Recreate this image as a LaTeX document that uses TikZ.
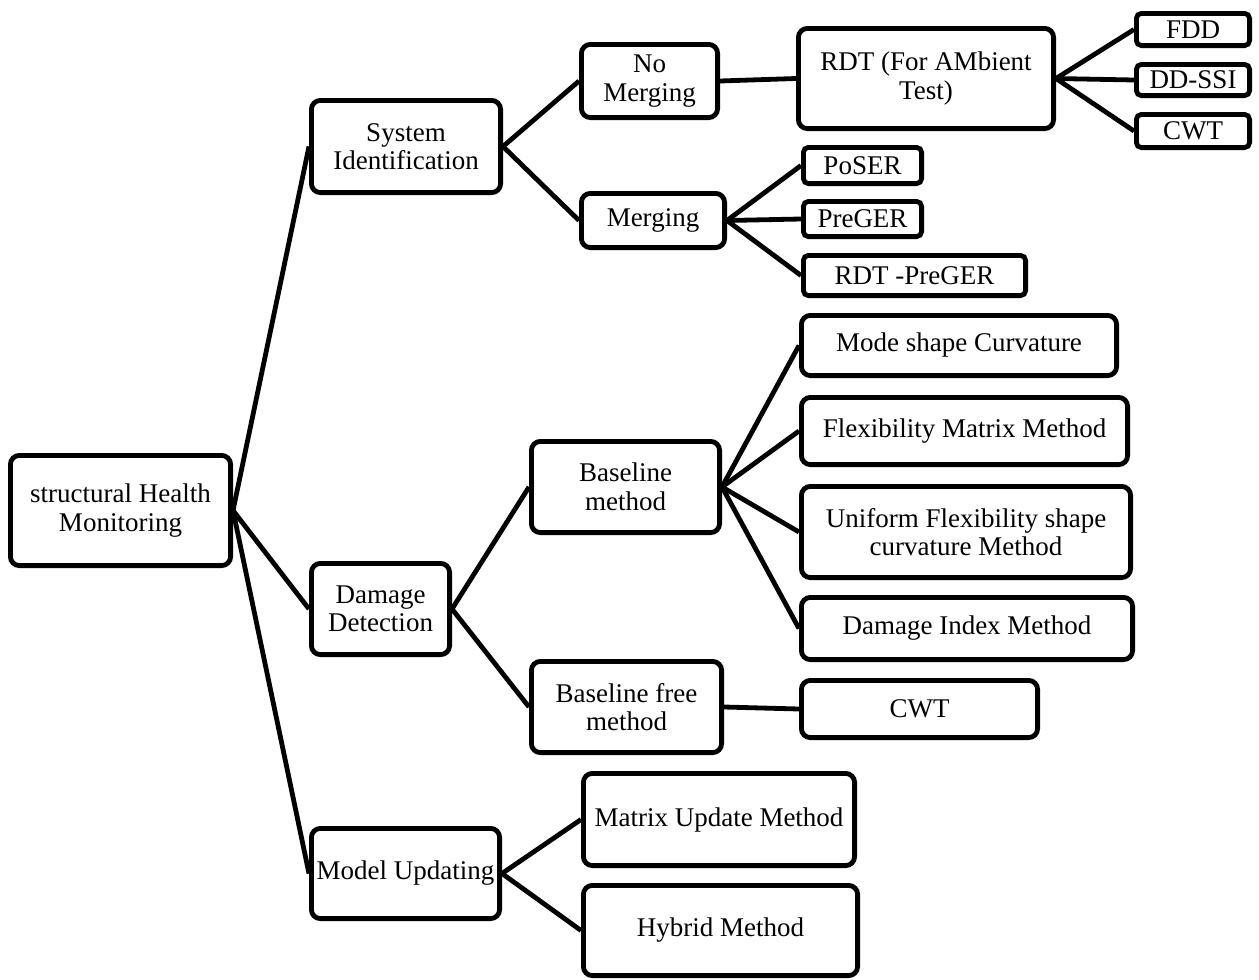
\documentclass[tikz,border=0pt]{standalone}
\usepackage{fontspec}
\setmainfont{Liberation Serif}
\begin{document}
\begin{tikzpicture}[x=1pt,y=-1pt,
  every node/.style={font=\fontsize{27}{28.5}\selectfont},
  bx/.style={draw, line width=4.8pt, rounded corners=9pt, align=center, inner sep=0pt, fill=white},
  sbx/.style={bx, rounded corners=5pt},
  ln/.style={line width=4.8pt}]
\useasboundingbox (0,0) rectangle (1259,980);
\newcommand{\bxat}[6]{\node[#1, minimum width=#4pt-4.8pt, minimum height=#5pt-4.8pt] (#2) at (#3) {#6};}
% level 0
\bxat{bx}{shm}{120.5,510.5}{225}{115}{structural Health\\Monitoring}
% level 1
\bxat{bx}{si}{406,146.5}{194}{97}{System\\Identification}
\bxat{bx}{dd}{380.5,609}{143}{96}{Damage\\Detection}
\bxat{bx}{mu}{405.5,873.5}{193}{95}{Model Updating}
% level 2
\bxat{bx}{nm}{649.5,81}{141}{78}{No\\Merging}
\bxat{bx}{mg}{653,220.5}{148}{59}{Merging}
\bxat{bx}{bm}{625.5,487}{193}{96}{Baseline\\method}
\bxat{bx}{bfm}{626.5,707}{195}{96}{Baseline free\\method}
\bxat{bx}{mum}{719,819.5}{276}{97}{Matrix Update Method}
\bxat{bx}{hm}{720.5,930.5}{279}{95}{Hybrid Method}
% level 3
\bxat{bx}{rdt}{926,78.5}{260}{105}{RDT (For AMbient\\Test)}
\bxat{sbx}{poser}{862.5,165.5}{123}{41}{PoSER}
\bxat{sbx}{preger}{862.5,219}{123}{40}{PreGER}
\bxat{sbx}{rdtp}{914.5,275.5}{227}{45}{RDT -PreGER}
\bxat{bx}{msc}{959,345.5}{320}{65}{Mode shape Curvature}
\bxat{bx}{fmm}{964.5,431}{331}{72}{Flexibility Matrix Method}
\bxat{bx}{ufs}{966,532}{334}{96}{Uniform Flexibility shape\\curvature Method}
\bxat{bx}{dim}{967,628.5}{336}{67}{Damage Index Method}
\bxat{bx}{cwtb}{919.5,709}{241}{62}{CWT}
% level 4
\bxat{sbx}{fdd}{1193,29.5}{118}{37}{FDD}
\bxat{sbx}{ddssi}{1193,80}{118}{36}{DD-SSI}
\bxat{sbx}{cwta}{1193,131}{118}{38}{CWT}
% connectors
\draw[ln] (shm.east) -- (si.west);
\draw[ln] (shm.east) -- (dd.west);
\draw[ln] (shm.east) -- (mu.west);
\draw[ln] (si.east) -- (nm.west);
\draw[ln] (si.east) -- (mg.west);
\draw[ln] (nm.east) -- (rdt.west);
\draw[ln] (rdt.east) -- (fdd.west);
\draw[ln] (rdt.east) -- (ddssi.west);
\draw[ln] (rdt.east) -- (cwta.west);
\draw[ln] (mg.east) -- (poser.west);
\draw[ln] (mg.east) -- (preger.west);
\draw[ln] (mg.east) -- (rdtp.west);
\draw[ln] (dd.east) -- (bm.west);
\draw[ln] (dd.east) -- (bfm.west);
\draw[ln] (bm.east) -- (msc.west);
\draw[ln] (bm.east) -- (fmm.west);
\draw[ln] (bm.east) -- (ufs.west);
\draw[ln] (bm.east) -- (dim.west);
\draw[ln] (bfm.east) -- (cwtb.west);
\draw[ln] (mu.east) -- (mum.west);
\draw[ln] (mu.east) -- (hm.west);
\end{tikzpicture}
\end{document}
